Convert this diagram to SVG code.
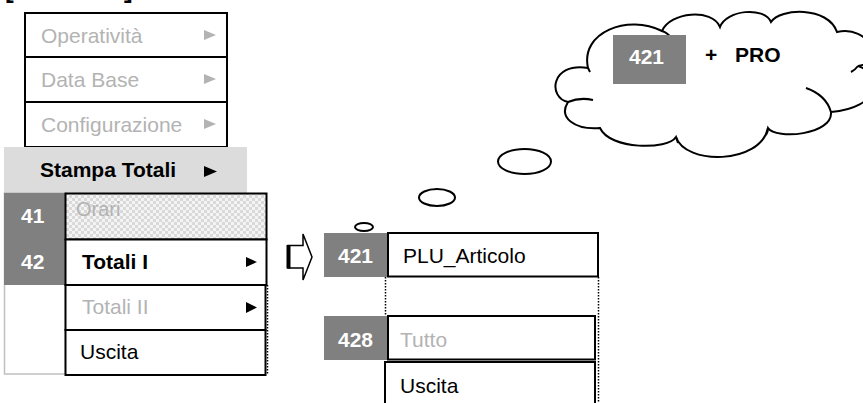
<svg xmlns="http://www.w3.org/2000/svg" width="863" height="403" viewBox="0 0 863 403">
<style>
  text { font-family: "Liberation Sans", Arial, sans-serif; font-size: 21px; }
  .b { font-weight: bold; }
  .g { fill: #b3b3b3; }
  .k { fill: #000; }
  .w { fill: #fff; }
  .box { fill: #fff; stroke: #000; stroke-width: 2; }
  .lab { fill: #808080; }
  .ln { fill: none; stroke: #000; stroke-width: 2; }
  .dot { fill: none; stroke: #000; stroke-width: 1.5; stroke-dasharray: 1.5 1.5; }
</style>
<defs>
  <pattern id="chk" width="6" height="6" patternUnits="userSpaceOnUse">
    <rect width="6" height="6" fill="#f4f4f4"/>
    <rect width="3" height="3" fill="#d9d9d9"/>
    <rect x="3" y="3" width="3" height="3" fill="#d9d9d9"/>
  </pattern>
</defs>
<rect width="863" height="403" fill="#fff"/>

<g id="title">
  <text x="5" y="-2" class="b" style="font-size:26px">[</text>
  <text x="124" y="-2" class="b" style="font-size:26px">]</text>
</g>

<g id="menu-main">
  <rect x="25" y="13" width="202" height="44" class="box"/>
  <rect x="25" y="57" width="202" height="45" class="box"/>
  <rect x="25" y="102" width="202" height="45" class="box"/>
  <text x="41" y="43" class="g">Operatività</text>
  <text x="41" y="87" class="g">Data Base</text>
  <text x="41" y="132" class="g">Configurazione</text>
  <polygon points="204,30 216,35 204,40" fill="#b3b3b3"/>
  <polygon points="204,74 216,79 204,84" fill="#b3b3b3"/>
  <polygon points="204,119 216,124 204,129" fill="#b3b3b3"/>
</g>

<g id="stampa-totali">
  <rect x="4" y="147" width="243" height="46" fill="#dcdcdc"/>
  <text x="40" y="177" class="b k">Stampa Totali</text>
  <polygon points="204,166 217,171.5 204,177" fill="#000"/>
</g>

<g id="submenu-41-42">
  <rect x="4.5" y="193" width="61" height="181" fill="#fff" stroke="#c0c0c0" stroke-width="1.5"/>
  <rect x="4" y="193" width="61.5" height="92" class="lab"/>
  <text x="21" y="223" class="b w">41</text>
  <text x="21" y="269" class="b w">42</text>
  <rect x="65.5" y="193.5" width="201" height="46" fill="url(#chk)" stroke="#000" stroke-width="2"/>
  <text x="76" y="216" class="g" style="font-size:20px">Orari</text>
  <rect x="65.5" y="239.5" width="201" height="45.5" class="box"/>
  <text x="82" y="269" class="b k">Totali  I</text>
  <polygon points="246,257 257,262 246,267" fill="#000"/>
  <rect x="65.5" y="285" width="200" height="45" class="box"/>
  <text x="82" y="314" class="g">Totali  II</text>
  <polygon points="246,302 257,307.5 246,313" fill="#000"/>
  <rect x="65.5" y="330" width="200" height="45" class="box"/>
  <text x="80" y="359" class="k">Uscita</text>
  <line x1="267.5" y1="285" x2="267.5" y2="375" class="dot"/>
</g>

<g id="submenu-421">
  <rect x="324" y="233" width="64" height="44" class="lab"/>
  <text x="338" y="263" class="b w">421</text>
  <rect x="388" y="233" width="210" height="43.5" class="box"/>
  <text x="403" y="263" class="k">PLU_Articolo</text>
  <line x1="385.5" y1="277" x2="385.5" y2="316" class="dot"/>
  <line x1="598.5" y1="277" x2="598.5" y2="403" class="dot"/>
  <rect x="324" y="316" width="64" height="44" class="lab"/>
  <text x="338" y="347" class="b w">428</text>
  <rect x="388" y="316" width="207" height="43.5" class="box"/>
  <text x="400" y="347" class="g">Tutto</text>
  <rect x="385" y="362" width="210" height="45" class="box"/>
  <text x="400" y="393" class="k">Uscita</text>
</g>

<g id="connectors">
  <polygon points="288,245.5 303,245.5 303,234 312,257 303,280 303,268 288,268" fill="#fff" stroke="#000" stroke-width="1.5"/>
  <line x1="288.5" y1="245" x2="288.5" y2="268.5" stroke="#000" stroke-width="4"/>
</g>

<g id="cloud">
  <ellipse cx="364" cy="227" rx="9" ry="4" class="box"/>
  <ellipse cx="437" cy="197.5" rx="18" ry="8.5" class="box"/>
  <ellipse cx="524.5" cy="161.5" rx="26.5" ry="12.5" class="box"/>
  <path class="box" d="M588,68 C580,32 628,14 662,31 C670,12 712,8 720,27 C726,10 764,6 771,22 C780,8 828,6 837,32 C870,25 885,62 858,66 C885,75 880,108 831,112 C833,135 776,140 768,128 C760,165 685,165 676,137 C668,150 610,150 600,128 C575,130 558,118 568,102 C548,98 550,62 588,68 Z"/>
  <path class="ln" d="M662,31 Q668,33 671,38"/>
  <path class="ln" d="M568,102 Q580,97 593,100"/>
  <path class="ln" d="M588,68 Q589,70 590,72"/>
  <path class="ln" d="M858,66 Q855,70 851,72"/>
  <path class="ln" d="M831,112 Q826,95 806,88"/>
  <path class="ln" d="M768,128 Q768,132 766,135"/>
  <path class="ln" d="M676,137 Q677,140 678,143"/>
  <rect x="613" y="35" width="73" height="49" class="lab"/>
  <text x="629" y="64" class="b w">421</text>
  <text x="705" y="62" class="b k">+</text>
  <text x="735" y="62" class="b k">PRO</text>
</g>
</svg>
